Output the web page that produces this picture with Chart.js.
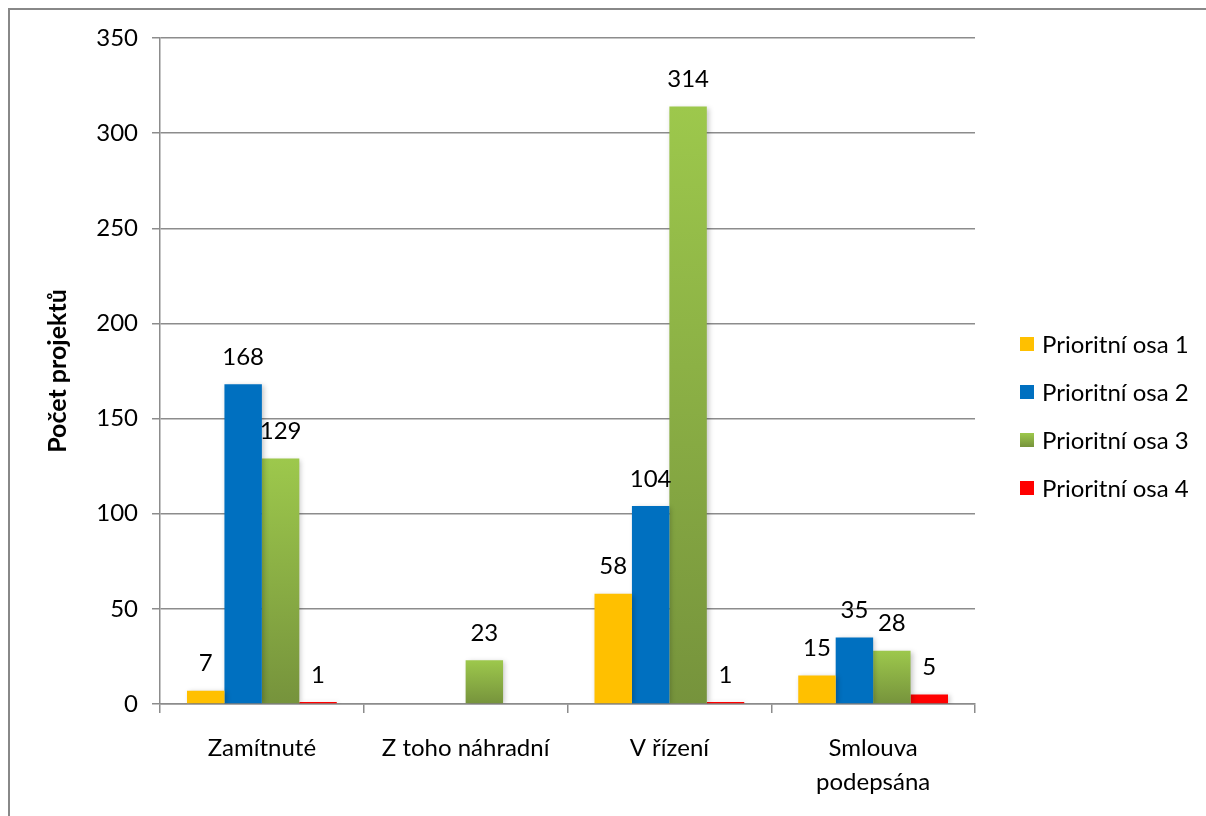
<!DOCTYPE html>
<html>
<head>
<meta charset="utf-8">
<script src="https://cdn.jsdelivr.net/npm/chart.js@4/dist/chart.umd.min.js"></script>
<style>
  html, body { margin: 0; padding: 0; background: #fff; }
  canvas { display: block; }
</style>
</head>
<body>
<canvas id="chart" width="1206" height="816"></canvas>
<script>
// Data
const categories = ['Zamítnuté', 'Z toho náhradní', 'V řízení', ['Smlouva', 'podepsána']];
const seriesNames = ['Prioritní osa 1', 'Prioritní osa 2', 'Prioritní osa 3', 'Prioritní osa 4'];
const osa1 = [7, null, 58, 15];
const osa2 = [168, null, 104, 35];
const osa3 = [129, 23, 314, 28];
const osa4 = [1, null, 1, 5];
const yMax = 350;
const yStep = 50;

const FONT = 'Lato, "Liberation Sans", sans-serif';
const FS = 24;
const GRID = '#8c8c8c';

// green bars go light at the top to dark at the base
function greenFill(c) {
    const chart = c.chart;
    const y = chart.scales.y;
    if (!y || c.raw == null) return '#9bc84b';
    const top = y.getPixelForValue(c.raw);
    const base = y.getPixelForValue(0);
    if (!isFinite(top) || !isFinite(base) || base - top < 0.5) return '#8bb045';
    const g = chart.ctx.createLinearGradient(0, top, 0, base);
    g.addColorStop(0, '#9dc84c');
    g.addColorStop(1, '#76933c');
    return g;
}

const colors = ['#ffc000', '#0070c0', greenFill, '#ff0000'];

// Frame, shadow, value labels, legend
const extras = {
    id: 'extras',
    beforeDraw(chart) {
        const ctx = chart.ctx;
        ctx.save();
        ctx.fillStyle = '#fff';
        ctx.fillRect(0, 0, chart.width, chart.height);
        ctx.strokeStyle = '#888';
        ctx.lineWidth = 2;
        ctx.beginPath();
        ctx.moveTo(9, chart.height);
        ctx.lineTo(9, 9);
        ctx.lineTo(chart.width, 9);
        ctx.stroke();
        ctx.restore();
    },
    beforeDatasetsDraw(chart) {
        const ctx = chart.ctx;
        ctx.save();
        ctx.shadowColor = 'rgba(0,0,0,0.22)';
        ctx.shadowBlur = 5;
        ctx.shadowOffsetX = 2;
        ctx.shadowOffsetY = 1;
    },
    afterDatasetsDraw(chart) {
        const ctx = chart.ctx;
        ctx.restore();
        ctx.save();
        ctx.font = FS + 'px ' + FONT;
        ctx.fillStyle = '#000';
        ctx.textAlign = 'center';
        ctx.textBaseline = 'middle';
        chart.data.datasets.forEach((ds, i) => {
            chart.getDatasetMeta(i).data.forEach((bar, j) => {
                const v = ds.data[j];
                if (v == null) return;
                ctx.fillText(String(v), bar.x, bar.y - 27);
            });
        });

        // legend
        const lx = 1020, ly = 344, step = 48;
        ctx.textAlign = 'left';
        seriesNames.forEach((name, i) => {
            const cy = ly + i * step;
            let fill = colors[i];
            if (typeof fill === 'function') {
                const g = ctx.createLinearGradient(0, cy - 7, 0, cy + 7);
                g.addColorStop(0, '#9dc84c');
                g.addColorStop(1, '#76933c');
                fill = g;
            }
            ctx.fillStyle = fill;
            ctx.fillRect(lx, cy - 7, 14, 14);
            ctx.fillStyle = '#000';
            ctx.fillText(name, lx + 22, cy + 1);
        });
        ctx.restore();
    }
};

const datasets = [osa1, osa2, osa3, osa4].map((d, i) => ({
    label: seriesNames[i],
    data: d,
    backgroundColor: colors[i],
    borderWidth: 0,
    categoryPercentage: 0.735,
    barPercentage: 1,
    skipNull: false
}));

new Chart(document.getElementById('chart'), {
    type: 'bar',
    data: { labels: categories, datasets: datasets },
    plugins: [extras],
    options: {
        responsive: false,
        animation: false,
        layout: { padding: { top: 38, right: 231, bottom: 0, left: 0 } },
        plugins: {
            legend: { display: false },
            tooltip: { enabled: false }
        },
        scales: {
            x: {
                grid: {
                    offset: true,
                    drawOnChartArea: false,
                    drawTicks: true,
                    tickLength: 9,
                    color: GRID,
                    lineWidth: 1.5
                },
                border: { display: true, color: GRID, width: 1.5 },
                ticks: {
                    color: '#000',
                    font: { family: FONT, size: FS, lineHeight: 1.42 },
                    padding: 18,
                    maxRotation: 0
                },
                afterFit(scale) { scale.height = 112; }
            },
            y: {
                min: 0,
                max: yMax,
                ticks: {
                    stepSize: yStep,
                    color: '#000',
                    font: { family: FONT, size: FS },
                    padding: 14
                },
                grid: {
                    color: GRID,
                    lineWidth: 1.5,
                    drawTicks: true,
                    tickLength: 8
                },
                border: { display: true, color: GRID, width: 1.5 },
                title: {
                    display: true,
                    text: 'Počet projektů',
                    color: '#000',
                    font: { family: FONT, size: 25, weight: 'bold' },
                    padding: { top: 43, bottom: 0 }
                },
                afterFit(scale) { scale.width = 160; }
            }
        }
    }
});
</script>
</body>
</html>
